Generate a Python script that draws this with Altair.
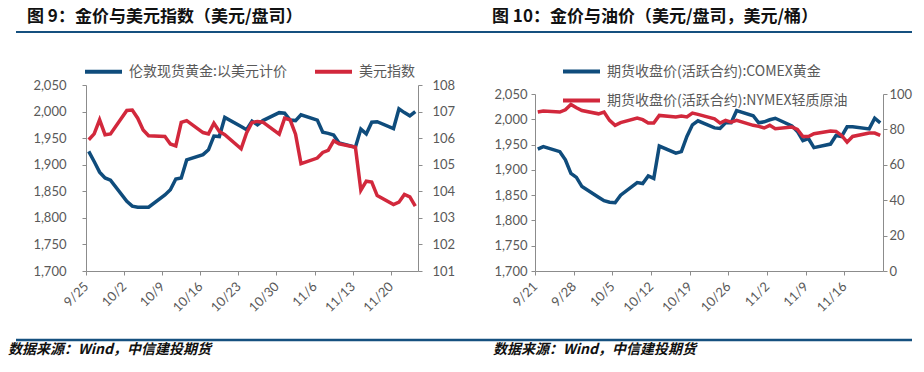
import json
import altair as alt
import pandas as pd

# ---------------- 图 9：金价与美元指数 ----------------
f9_dates = [
    "2023-09-25", "2023-09-26", "2023-09-27", "2023-09-28", "2023-09-29",
    "2023-10-02", "2023-10-03", "2023-10-04", "2023-10-05", "2023-10-06",
    "2023-10-09", "2023-10-10", "2023-10-11", "2023-10-12", "2023-10-13",
    "2023-10-16", "2023-10-17", "2023-10-18", "2023-10-19", "2023-10-20",
    "2023-10-23", "2023-10-24", "2023-10-25", "2023-10-26", "2023-10-27",
    "2023-10-30", "2023-10-31", "2023-11-01", "2023-11-02", "2023-11-03",
    "2023-11-06", "2023-11-07", "2023-11-08", "2023-11-09", "2023-11-10",
    "2023-11-13", "2023-11-14", "2023-11-15", "2023-11-16", "2023-11-17",
    "2023-11-20", "2023-11-21", "2023-11-22", "2023-11-23", "2023-11-24",
]
f9_gold = [
    1925, 1906, 1886, 1875, 1871,
    1831, 1822, 1820, 1820, 1820,
    1843, 1853, 1873, 1875, 1909,
    1919, 1928, 1954, 1953, 1989,
    1972, 1966, 1982, 1975, 1983,
    1998, 1997, 1984, 1983, 1994,
    1984, 1961, 1959, 1956, 1941,
    1933, 1967, 1958, 1980, 1981,
    1968, 2005, 1998, 1992, 2000,
]
f9_dxy = [
    105.94, 106.16, 106.69, 106.13, 106.16,
    107.04, 107.06, 106.75, 106.31, 106.09,
    106.06, 105.78, 105.71, 106.59, 106.66,
    106.21, 106.16, 106.56, 106.25, 106.13,
    105.60, 106.20, 106.59, 106.63, 106.60,
    106.15, 106.75, 106.69, 106.15, 105.04,
    105.25, 105.46, 105.54, 105.90, 105.79,
    105.66, 104.04, 104.38, 104.35, 103.84,
    103.50, 103.59, 103.88, 103.79, 103.44,
]
f9_start, f9_end = "2023-09-25", "2023-11-25"
f9_ticks = ["9/25", "10/2", "10/9", "10/16", "10/23", "10/30", "11/6", "11/13", "11/20"]
f9_names = ["伦敦现货黄金:以美元计价", "美元指数"]
f9_title = "图 9：金价与美元指数（美元/盘司）"

# ---------------- 图 10：金价与油价 ----------------
f10_dates = [
    "2023-09-21", "2023-09-22",
    "2023-09-25", "2023-09-26", "2023-09-27", "2023-09-28", "2023-09-29",
    "2023-10-02", "2023-10-03", "2023-10-04", "2023-10-05", "2023-10-06",
    "2023-10-09", "2023-10-10", "2023-10-11", "2023-10-12", "2023-10-13",
    "2023-10-16", "2023-10-17", "2023-10-18", "2023-10-19", "2023-10-20",
    "2023-10-23", "2023-10-24", "2023-10-25", "2023-10-26", "2023-10-27",
    "2023-10-30", "2023-10-31", "2023-11-01", "2023-11-02", "2023-11-03",
    "2023-11-06", "2023-11-07", "2023-11-08", "2023-11-09", "2023-11-10",
    "2023-11-13", "2023-11-14", "2023-11-15", "2023-11-16", "2023-11-17",
    "2023-11-20", "2023-11-21", "2023-11-22",
]
f10_gold = [
    1941, 1946,
    1936, 1920, 1893, 1885, 1867,
    1846, 1839, 1836, 1835, 1850,
    1875, 1873, 1888, 1883, 1947,
    1933, 1936, 1966, 1989, 1997,
    1983, 1982, 1993, 1993, 2017,
    2007, 1993, 1995, 1999, 2002,
    1987, 1976, 1958, 1962, 1944,
    1951, 1968, 1966, 1985, 1985,
    1981, 2002, 1993,
]
f10_oil = [
    89.8, 90.4,
    89.8, 91.1, 94.1, 92.2, 90.7,
    88.8, 89.8, 85.1, 82.3, 83.8,
    86.4, 85.5, 83.6, 83.6, 87.9,
    87.0, 87.5, 87.0, 89.2, 88.5,
    86.0, 83.6, 85.1, 84.1, 85.1,
    82.3, 81.7, 80.8, 82.3, 80.4,
    81.3, 80.0, 76.0, 76.0, 77.6,
    79.1, 78.9, 76.6, 72.8, 76.0,
    77.9, 77.9, 76.6,
]
f10_start, f10_end = "2023-09-21", "2023-11-23"
f10_ticks = ["9/21", "9/28", "10/5", "10/12", "10/19", "10/26", "11/2", "11/9", "11/16"]
f10_names = ["期货收盘价(活跃合约):COMEX黄金", "期货收盘价(活跃合约):NYMEX轻质原油"]
f10_title = "图 10：金价与油价（美元/盘司，美元/桶）"

source_note = "数据来源：Wind，中信建投期货"

gold_ticks = [1700, 1750, 1800, 1850, 1900, 1950, 2000, 2050]
dxy_ticks = [101, 102, 103, 104, 105, 106, 107, 108]
oil_ticks = [0, 20, 40, 60, 80, 100]

BLUE = "#0F4C7C"
RED = "#D2283C"
RULE = "#15507F"
GREY = "#595959"
AXIS = "#8C8C8C"
CJK = "Noto Sans CJK SC"
NUM = "Lato"
H = 186


def frame(dates, values, name, start):
    d = pd.to_datetime(pd.Series(dates))
    day = (d - pd.Timestamp(start)).dt.days + 0.5
    return pd.DataFrame({"day": day, "value": values, "series": name})


def axis_style(**kw):
    base = dict(domainColor=AXIS, tickColor=AXIS, labelColor=GREY, labelFont=NUM,
                labelFontSize=13, tickSize=4, grid=False, title=None)
    base.update(kw)
    return alt.Axis(**base)


def panel(dates, left_vals, right_vals, names, start, end, ticks, title,
          width, left_dom, left_ticks, right_dom, right_ticks, y_range,
          lpad_left, lpad_right, legend_kw, title_x, rule_x, foot_x):
    n_days = (pd.Timestamp(end) - pd.Timestamp(start)).days
    df_l = frame(dates, left_vals, names[0], start)
    df_r = frame(dates, right_vals, names[1], start)
    tick_vals = [7 * i for i in range(len(ticks))]
    label_expr = json.dumps(ticks) + "[round(datum.value / 7)]"
    x = alt.X("day:Q", scale=alt.Scale(domain=[0, n_days], nice=False, zero=False),
              axis=axis_style(values=tick_vals, labelExpr=label_expr, labelAngle=315,
                              labelAlign="right", labelBaseline="middle",
                              labelPadding=9, labelOverlap=False))
    color = alt.Color("series:N",
                      scale=alt.Scale(domain=names, range=[BLUE, RED]),
                      legend=alt.Legend(orient="none", title=None, symbolType="stroke",
                                        symbolSize=1369, symbolStrokeWidth=4,
                                        labelFont=CJK, labelFontSize=14, labelColor=GREY,
                                        labelLimit=500, labelOffset=5, **legend_kw))
    if y_range is not None:
        yl_scale = alt.Scale(domain=left_dom, zero=False, nice=False, range=y_range)
        yr_scale = alt.Scale(domain=right_dom, zero=False, nice=False, range=y_range)
    else:
        yl_scale = alt.Scale(domain=left_dom, zero=False, nice=False)
        yr_scale = alt.Scale(domain=right_dom, zero=False, nice=False)
    left_line = alt.Chart(df_l).mark_line(strokeWidth=3.5).encode(
        x=x,
        y=alt.Y("value:Q", scale=yl_scale,
                axis=axis_style(orient="left", values=left_ticks, format=",.0f",
                                labelPadding=lpad_left)),
        color=color,
    )
    right_line = alt.Chart(df_r).mark_line(strokeWidth=3.5).encode(
        x=x,
        y=alt.Y("value:Q", scale=yr_scale,
                axis=axis_style(orient="right", values=right_ticks, format=".0f",
                                labelPadding=lpad_right)),
        color=color,
    )
    deco = pd.DataFrame({"title": [title], "note": [source_note]})
    title_text = alt.Chart(deco).mark_text(
        align="left", baseline="top", font=CJK, fontSize=17, fontWeight="bold",
        color="#111111").encode(x=alt.value(title_x), y=alt.value(-76), text="title:N")
    title_rule = alt.Chart(deco).mark_rule(color=RULE, strokeWidth=2.2).encode(
        x=alt.value(rule_x[0]), x2=alt.value(rule_x[1]), y=alt.value(-53))
    foot_rule = alt.Chart(deco).mark_rule(color=RULE, strokeWidth=2.6).encode(
        x=alt.value(rule_x[0]), x2=alt.value(rule_x[1]), y=alt.value(255))
    foot_text = alt.Chart(deco).mark_text(
        align="left", baseline="middle", font=CJK, fontSize=14, fontWeight="bold",
        fontStyle="italic", color="#111111").encode(
        x=alt.value(foot_x), y=alt.value(265), text="note:N")
    return alt.layer(left_line, right_line, title_text, title_rule, foot_rule, foot_text
                     ).resolve_scale(y="independent").properties(width=width, height=H)


left = panel(f9_dates, f9_gold, f9_dxy, f9_names, f9_start, f9_end, f9_ticks, f9_title,
             332, [1700, 2050], gold_ticks, [101, 108], dxy_ticks, None,
             16, 10,
             dict(legendX=-3, legendY=-34, direction="horizontal", columnPadding=20),
             -59, (-70, 374), -78)

right = panel(f10_dates, f10_gold, f10_oil, f10_names, f10_start, f10_end, f10_ticks, f10_title,
              348, [1700, 2050], gold_ticks, [0, 100], oil_ticks, [H, 9],
              4, 2,
              dict(legendX=26, legendY=-34, direction="vertical", columns=1, rowPadding=-7),
              -43, (-75, 377), -42)

chart = alt.concat(left, right, columns=2, spacing=117, bounds="flush", align="none"
                   ).resolve_scale(color="independent"
                   ).resolve_legend(color="independent"
                   ).properties(padding=0, background="white"
                   ).configure_view(stroke=None)

chart.save("out.html", embed_options={"renderer": "svg", "actions": False})
